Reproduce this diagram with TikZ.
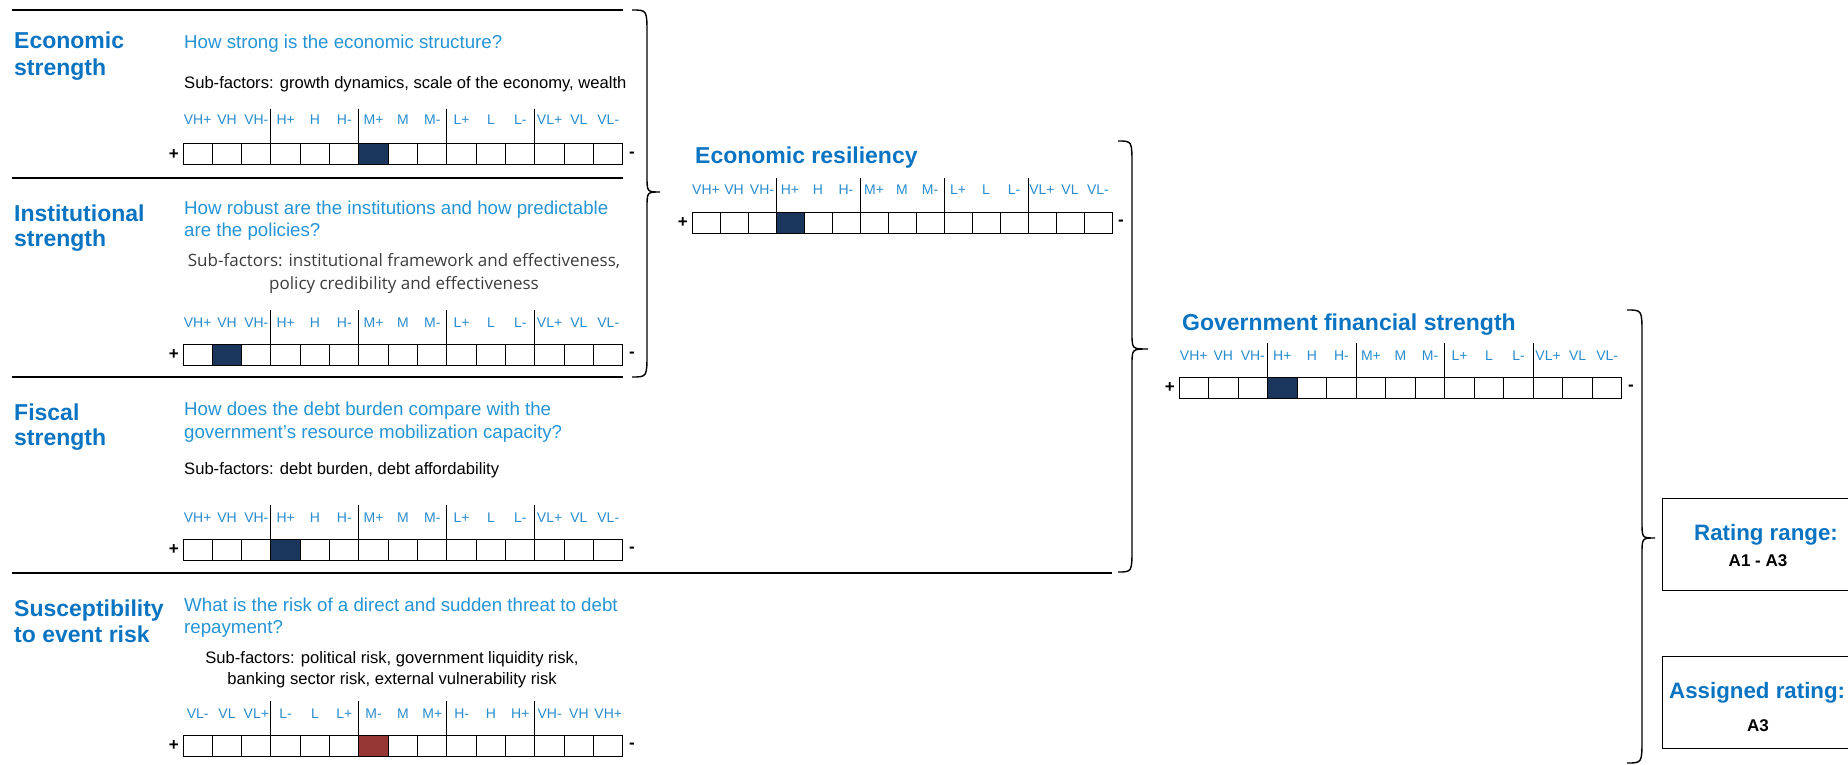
\documentclass[tikz,border=0pt]{standalone}
\usepackage{fontspec}
\setmainfont{Liberation Sans}
\newfontfamily\subfont{Open Sans}
\usetikzlibrary{calc}
\definecolor{titleblue}{RGB}{10,116,194}
\definecolor{qblue}{RGB}{36,148,214}
\definecolor{lblue}{RGB}{40,140,205}
\definecolor{navy}{RGB}{26,54,93}
\definecolor{darkred}{RGB}{150,55,52}
\definecolor{subgray}{RGB}{60,60,60}
\tikzset{
  cell/.style={draw=black, line width=1pt, anchor=north west, minimum height=21, inner sep=0, outer sep=0},
  scalelab/.style={text=lblue, font=\fontsize{14}{16}\selectfont, anchor=base, inner sep=0},
  sign/.style={font=\bfseries\fontsize{17}{20}\selectfont, inner sep=0},
  ttl/.style={text=titleblue, font=\bfseries\fontsize{23}{26}\selectfont, anchor=base west, inner sep=0},
  qst/.style={text=qblue, font=\fontsize{18.7}{22}\selectfont, anchor=base west, inner sep=0},
  subf/.style={text=black, font=\fontsize{16.6}{19}\selectfont, anchor=base west, inner sep=0},
  subfc/.style={text=black, font=\fontsize{16.6}{19}\selectfont, anchor=base, inner sep=0},
  subfo/.style={text=subgray, font=\subfont\fontsize{17}{20}\selectfont, anchor=base, inner sep=0},
  sepline/.style={line width=1.3pt},
  divline/.style={line width=1pt},
  bracel/.style={line width=1.4pt},
  rbox/.style={draw=black, line width=1.3pt, anchor=north west, minimum width=210, minimum height=92, inner sep=0},
  rtitle/.style={text=titleblue, font=\bfseries\fontsize{22.3}{26}\selectfont, inner sep=0},
  rval/.style={text=black, font=\bfseries\fontsize{17}{20}\selectfont, anchor=base, inner sep=0},
}
\def\labsA{VH+,VH,VH-,H+,H,H-,M+,M,M-,L+,L,L-,VL+,VL,VL-}
\def\labsB{VL-,VL,VL+,L-,L,L+,M-,M,M+,H-,H,H+,VH-,VH,VH+}
% #1 name, #2 x0, #3 label baseline, #4 box top, #5 cell width, #6 filled index, #7 fill colour, #8 labels, #9 divider top
\newcommand{\ratingrow}[9]{%
  \foreach \i in {0,...,14}{%
    \pgfmathsetmacro{\xx}{#2+\i*#5}%
    \ifnum\i=#6\relax \def\fc{#7}\else \def\fc{white}\fi
    \node[cell, fill=\fc, minimum width=#5] (#1-\i) at (\xx,#4) {};
  }
  \foreach \lab [count=\k from 0] in #8 {%
    \pgfmathsetmacro{\xx}{#2+(\k+0.5)*#5}%
    \node[scalelab] (#1-l\k) at (\xx,#3) {\lab};
  }
  \foreach \j in {1,...,4}{%
    \pgfmathsetmacro{\xx}{#2+3*\j*#5}%
    \draw[divline] (\xx,#9) -- (\xx,#4);
  }
  \node[sign, anchor=east] (#1-plus) at ($(#1-0.west)+(-4,0)$) {+};
  \node[sign, anchor=west] (#1-minus) at ($(#1-14.east)+(6,0)$) {-};
}
% #1 xa, #2 xv, #3 xt, #4 ytop, #5 ytip, #6 ybot
\newcommand{\curlybrace}[6]{%
  \draw[bracel] (#1,#4) .. controls (#2,#4) .. (#2,#4+24) -- (#2,#5-16)
    .. controls (#2,#5) .. (#3,#5) .. controls (#2,#5) .. (#2,#5+16)
    -- (#2,#6-24) .. controls (#2,#6) .. (#1,#6);
}
\begin{document}
\begin{tikzpicture}[x=1pt,y=-1pt]
\useasboundingbox (0,0) rectangle (1848,765);
\clip (0,0) rectangle (1848,765);

% separators
\draw[sepline] (12,10) -- (623,10);
\draw[sepline] (12,178) -- (623,178);
\draw[sepline] (12,377) -- (623,377);
\draw[sepline] (12,573) -- (1112,573);

% Economic strength
\node[ttl] (es1) at (14,49) {Economic};
\node[ttl] (es2) at (14,76) {strength};
\node[qst] (esq) at (184,48.5) {How strong is the economic structure?};
\node[subf] (ess) at (184,89) {Sub-factors: growth dynamics, scale of the economy, wealth};
\ratingrow{esr}{183}{125}{144}{29.33}{6}{navy}{\labsA}{109}

% Institutional strength
\node[ttl] (is1) at (14,221) {Institutional};
\node[ttl] (is2) at (14,246) {strength};
\node[qst] (isq1) at (184,214.5) {How robust are the institutions and how predictable};
\node[qst] (isq2) at (184,236.5) {are the policies?};
\node[subfo] (iss1) at (404,266.5) {Sub-factors: institutional framework and effectiveness,};
\node[subfo] (iss2) at (404,289) {policy credibility and effectiveness};
\ratingrow{isr}{183}{327}{344}{29.33}{1}{navy}{\labsA}{310}

% Fiscal strength
\node[ttl] (fs1) at (14,420) {Fiscal};
\node[ttl] (fs2) at (14,445) {strength};
\node[qst] (fsq1) at (184,415.5) {How does the debt burden compare with the};
\node[qst] (fsq2) at (184,438.5) {government's resource mobilization capacity?};
\node[subf] (fss) at (184,474) {Sub-factors: debt burden, debt affordability};
\ratingrow{fsr}{183}{522}{539}{29.33}{3}{navy}{\labsA}{505}

% Susceptibility to event risk
\node[ttl] (se1) at (14,616) {Susceptibility};
\node[ttl] (se2) at (14,642) {to event risk};
\node[qst] (seq1) at (184,611.5) {What is the risk of a direct and sudden threat to debt};
\node[qst] (seq2) at (184,633.5) {repayment?};
\node[subfc] (ses1) at (392,663.5) {Sub-factors: political risk, government liquidity risk,};
\node[subfc] (ses2) at (392,684) {banking sector risk, external vulnerability risk};
\ratingrow{ser}{183}{718}{735}{29.33}{6}{darkred}{\labsB}{701}

% Economic resiliency
\node[ttl] (er) at (695,164) {Economic resiliency};
\ratingrow{err}{692}{194}{212}{28}{3}{navy}{\labsA}{178}

% Government financial strength
\node[ttl] (gf) at (1182,330) {Government financial strength};
\ratingrow{gfr}{1179}{360}{377}{29.53}{3}{navy}{\labsA}{343}

% braces
\curlybrace{632}{647}{660}{10}{192}{377}
\curlybrace{1118}{1132}{1148}{141}{349}{572}
\curlybrace{1627}{1642}{1655}{310}{538}{763}

% rating boxes
\node[rbox] (rr) at (1662,498) {};
\node[rtitle, anchor=base] (rrt) at (1766,540) {Rating range:};
\node[rval] (rrv) at (1758,566) {A1 - A3};
\node[rbox] (ar) at (1662,656) {};
\node[rtitle, anchor=base west] (art) at (1669,698) {Assigned rating:};
\node[rval] (arv) at (1758,731) {A3};
\end{tikzpicture}
\end{document}
